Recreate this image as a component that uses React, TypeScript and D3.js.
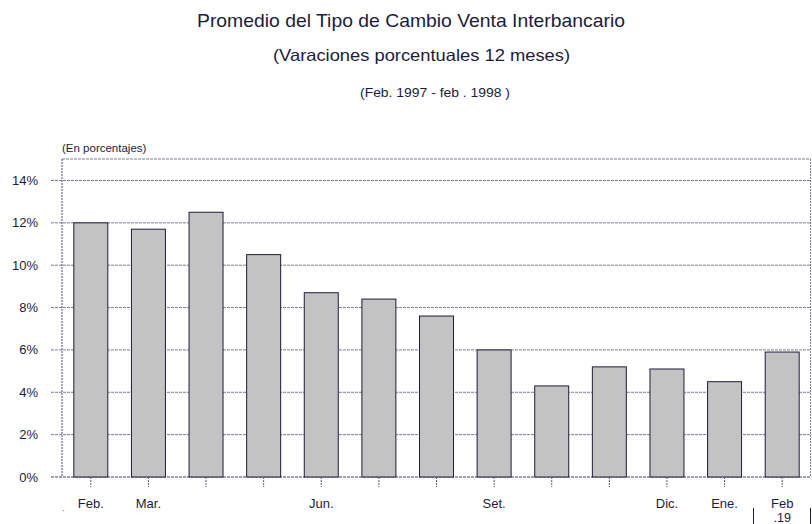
import React from "react";
import { scaleBand, scaleLinear } from "d3";

const months = ["Feb.", "Mar.", "Abr.", "May.", "Jun.", "Jul.", "Ago.", "Set.", "Oct.", "Nov.", "Dic.", "Ene.", "Feb"];
const shownLabels = ["Feb.", "Mar.", "", "", "Jun.", "", "", "Set.", "", "", "Dic.", "Ene.", "Feb"];
const values = [12.0, 11.7, 12.5, 10.5, 8.7, 8.4, 7.6, 6.0, 4.3, 5.2, 5.1, 4.5, 5.9];
const yTicks = [0, 2, 4, 6, 8, 10, 12, 14];

const W = 812;
const H = 524;
const ink = "#1c1c3c";
const grid = "#7a7c98";
const font = "'Liberation Sans', Arial, sans-serif";

const App = () => {
    const left = 62
    const right = 811
    const top = 159
    const bottom = 477

    const keys = months.map((m, i) => m + i)

    // scales
    const x = scaleBand<string>()
        .domain(keys)
        .range([left, right])
        .paddingInner(0.41)
        .paddingOuter(0.205)

    const y = scaleLinear()
        .domain([0, 15])
        .range([bottom, top + 0.3])

    const gridlines = yTicks.map((t) => (
        <g key={t}>
            <line x1={51} x2={right} y1={y(t)} y2={y(t)}
                stroke={t === 0 ? "#3a3c5c" : grid} strokeWidth={1} strokeDasharray="3,1" />
            <text x={38} y={y(t) + 4.5} textAnchor="end" fontSize={13} fill={ink}>{t}%</text>
        </g>
    ))

    const bars = values.map((v, i) => (
        <rect key={i} x={x(keys[i])} y={y(v)} width={x.bandwidth()} height={y(0) - y(v)}
            fill="#c3c3c3" stroke={ink} strokeWidth={1} />
    ))

    const ticks = keys.map((k, i) => {
        const cx = x(k)! + x.bandwidth() / 2
        return <g key={k}>
            <line x1={cx} x2={cx} y1={bottom} y2={487} stroke="#55577a" strokeDasharray="2,1" />
            <text x={cx} y={507.5} textAnchor="middle" fontSize={13} fill={ink}>{shownLabels[i]}</text>
        </g>
    })

    const lastX = x(keys[keys.length - 1])! + x.bandwidth() / 2

    return <svg width={W} height={H} viewBox={`0 0 ${W} ${H}`}
        style={{ position: "absolute", left: 0, top: 0, fontFamily: font }}>
        <rect width={W} height={H} fill="#fff" />
        <text x={411} y={27} textAnchor="middle" fontSize={19} fill={ink}
            textLength={428} lengthAdjust="spacingAndGlyphs">Promedio del Tipo de Cambio Venta Interbancario</text>
        <text x={421.5} y={61} textAnchor="middle" fontSize={16.5} fill={ink}
            textLength={297} lengthAdjust="spacingAndGlyphs">(Varaciones porcentuales 12 meses)</text>
        <text x={435} y={97} textAnchor="middle" fontSize={13.5} fill={ink}
            textLength={150} lengthAdjust="spacingAndGlyphs">(Feb. 1997 - feb  . 1998 )</text>
        <text x={62} y={152} fontSize={11.5} fill={ink}>(En porcentajes)</text>

        <line x1={left} x2={right} y1={top} y2={top} stroke={grid} strokeDasharray="3,1" />
        <line x1={left} x2={left} y1={top} y2={bottom} stroke="#4a4c70" strokeDasharray="2,1" />
        <line x1={right - 0.5} x2={right - 0.5} y1={top} y2={bottom} stroke={grid} strokeDasharray="2,1" />
        {gridlines}
        {bars}
        {ticks}
        <text x={lastX} y={522} textAnchor="middle" fontSize={12.5} fill={ink}>.19</text>
        <line x1={753.5} x2={753.5} y1={508} y2={524} stroke={ink} />
        <line x1={810.5} x2={810.5} y1={508} y2={524} stroke={ink} />
        <rect x={63} y={510} width={1} height={1} fill="#888" />
    </svg>
}

export default App;
